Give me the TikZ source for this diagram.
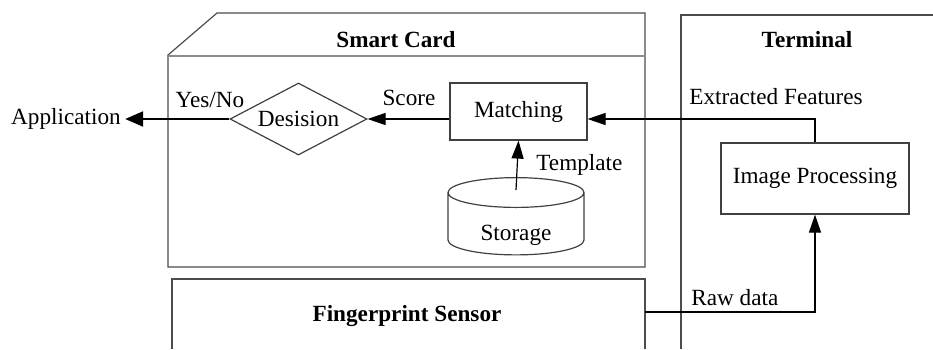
\documentclass[tikz,border=0pt]{standalone}
\usepackage{fontspec}
\setmainfont{Liberation Serif}
\usetikzlibrary{arrows.meta,shapes.geometric}

\tikzset{
  frame/.style={draw=black!70, line width=0.6pt},
  block/.style={draw=black!75, line width=0.6pt, inner sep=0pt},
  lbl/.style={inner sep=0pt, font=\fontsize{11.6}{13}\selectfont},
  title/.style={inner sep=0pt, font=\fontsize{11.6}{13}\selectfont\bfseries},
  arr/.style={line width=0.6pt, -{Triangle[length=9pt,width=6pt]}}
}

\begin{document}
\begin{tikzpicture}[x=0.5pt,y={(0pt,-0.5pt)}]
\useasboundingbox (0,0) rectangle (933,349);

% Smart card
\draw[frame] (168,267)--(168,55)--(217,13)--(645,13)--(645,267)--cycle;
\draw[draw=black!45, line width=0.6pt] (168,56)--(645,56);
\node[title] (cardtitle) at (396,40) {Smart Card};

% Terminal
\draw[frame] (933,15)--(681,15)--(681,349);
\node[title] (termtitle) at (807,40) {Terminal};

% Sensor
\draw[frame] (172,349)--(172,279)--(645,279)--(645,349);
\node[title] (senstitle) at (407,316) {Fingerprint Sensor};

% Blocks
\node[block, diamond, aspect=1.9, minimum width=68.5pt, minimum height=36pt, lbl] (dec) at (298.5,119) {Desision};
\node[block, rectangle, minimum width=68.5pt, minimum height=28.5pt, lbl] (match) at (518.5,111.5) {Matching};
\node[block, rectangle, minimum width=94pt, minimum height=35.5pt, lbl] (proc) at (815,178.5) {Image Processing};
\node[block, cylinder, shape border rotate=90, aspect=0.42, minimum width=68pt, minimum height=37pt,
      text height=16pt, text depth=0pt, lbl] (stor) at (516,224) {Storage};
\node[lbl] (app) at (66,119) {Application};

% Flow
\draw[arr] (proc.north) |- (match.east |- dec.east);
\draw[arr] (match.west |- dec.east) -- (dec.east);
\draw[line width=1.1pt, -{Triangle[length=9pt,width=7.5pt]}] (dec.west) -- ([xshift=2pt]app.east);
\draw[arr] ([yshift=-6.5pt]stor.north) -- (match.south);
\coordinate (sensout) at (645,312);
\draw[arr] (sensout) -| (proc.south);

% Labels
\node[lbl] (yesno) at (210,100) {Yes/No};
\node[lbl] (score) at (409,98) {Score};
\node[lbl, anchor=west] (templ) at (536,165) {Template};
\node[lbl, anchor=west] (feat) at (689,97) {Extracted Features};
\node[lbl, anchor=west] (raw) at (691,298) {Raw data};
\end{tikzpicture}
\end{document}
